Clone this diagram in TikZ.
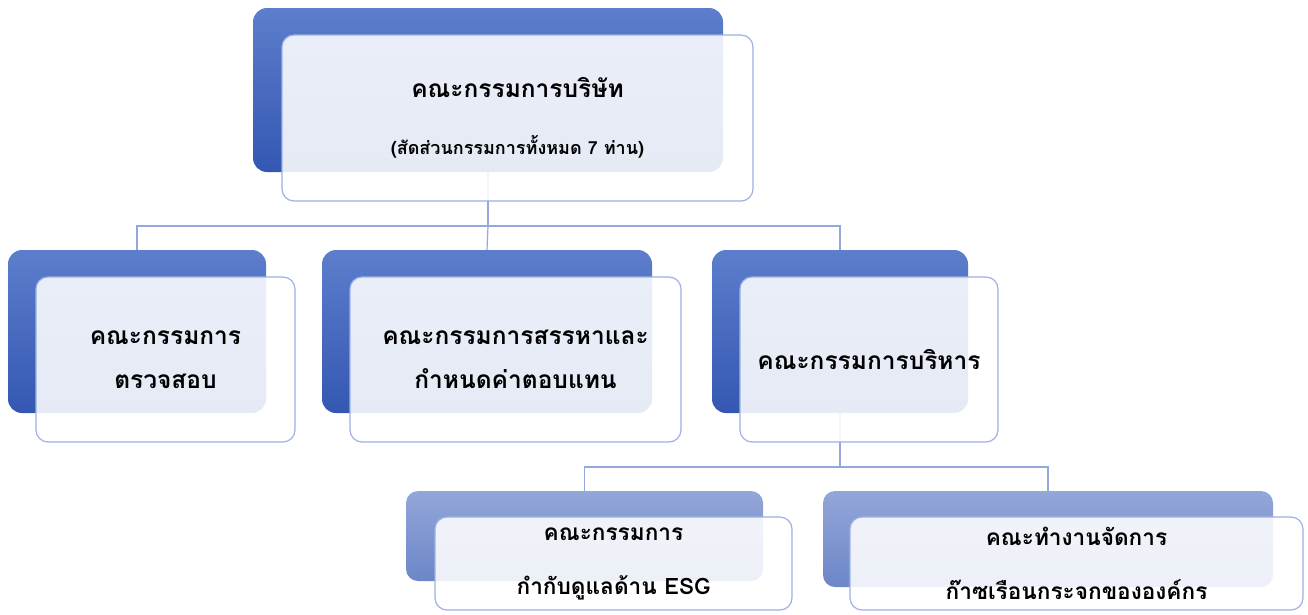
\documentclass[tikz,border=0pt]{standalone}
\usepackage{fontspec}
\newfontfamily\thai[Script=Thai]{Loma}
\definecolor{backtop}{HTML}{5C7ECC}
\definecolor{backbot}{HTML}{3457B2}
\definecolor{lighttop}{HTML}{93A6D9}
\definecolor{lightbot}{HTML}{6C86C7}
\definecolor{edgeblue}{HTML}{9DB1E2}
\definecolor{linkblue}{HTML}{93A8DE}
\tikzset{
  backbox/.style={rounded corners=14pt, top color=backtop, bottom color=backbot, draw=none, inner sep=0pt},
  lightback/.style={rounded corners=12pt, top color=lighttop, bottom color=lightbot, draw=none, inner sep=0pt},
  frontbox/.style={rounded corners=12pt, draw=edgeblue, line width=1.2pt, fill=white, fill opacity=0.88, text opacity=1, inner sep=0pt, align=center, text=black},
  midtext/.style={font=\thai\bfseries\fontsize{24.5}{44}\selectfont},
  toptext/.style={font=\thai\bfseries\fontsize{24.5}{57}\selectfont},
  bottext/.style={font=\thai\bfseries\fontsize{22.6}{54}\selectfont},
  conn/.style={draw=linkblue, line width=1.2pt}
}
\begin{document}
\begin{tikzpicture}[x=1pt,y=-1pt]
\useasboundingbox (0,0) rectangle (1308,614);
% junctions
\coordinate (j0) at (488,226);
\coordinate (j1) at (840,467);
% back boxes
\node[backbox, minimum width=470pt, minimum height=164pt] (b0) at (488,90) {};
\node[backbox, minimum width=258pt, minimum height=163pt] (b1) at (137,331.5) {};
\node[backbox, minimum width=330pt, minimum height=163pt] (b2) at (487,331.5) {};
\node[backbox, minimum width=256pt, minimum height=163pt] (b3) at (840,331.5) {};
\node[lightback, minimum width=357pt, minimum height=90pt] (b4) at (584.5,536) {};
\node[lightback, minimum width=450pt, minimum height=96pt] (b5) at (1048,539) {};
% connectors
\draw[conn] (b0.south) -- (j0);
\draw[conn] (b1.north) |- (j0) -| (b3.north);
\draw[conn] (j0) -- (b2.north);
\draw[conn] (b3.south) -- (j1);
\draw[conn] (b4.north) |- (j1) -| (b5.north);
% front boxes
\node[frontbox, toptext, minimum width=471pt, minimum height=166pt] (f0) at (517.5,118)
  {คณะกรรมการบริษัท\\{\fontsize{18}{57}\selectfont (สัดส่วนกรรมการทั้งหมด 7 ท่าน)}};
\node[frontbox, midtext, minimum width=259pt, minimum height=165pt] (f1) at (165.5,359.5)
  {คณะกรรมการ\\ตรวจสอบ};
\node[frontbox, midtext, minimum width=331pt, minimum height=165pt] (f2) at (515.5,359.5)
  {คณะกรรมการสรรหาและ\\กำหนดค่าตอบแทน};
\node[frontbox, midtext, minimum width=258pt, minimum height=165pt] (f3) at (869,359.5)
  {คณะกรรมการบริหาร};
\node[frontbox, bottext, minimum width=357pt, minimum height=93pt] (f4) at (613.5,563.5)
  {คณะกรรมการ\\กำกับดูแลด้าน ESG};
\node[frontbox, bottext, minimum width=453pt, minimum height=93pt] (f5) at (1076.5,563.5)
  {คณะทำงานจัดการ\\ก๊าซเรือนกระจกขององค์กร};
\end{tikzpicture}
\end{document}
